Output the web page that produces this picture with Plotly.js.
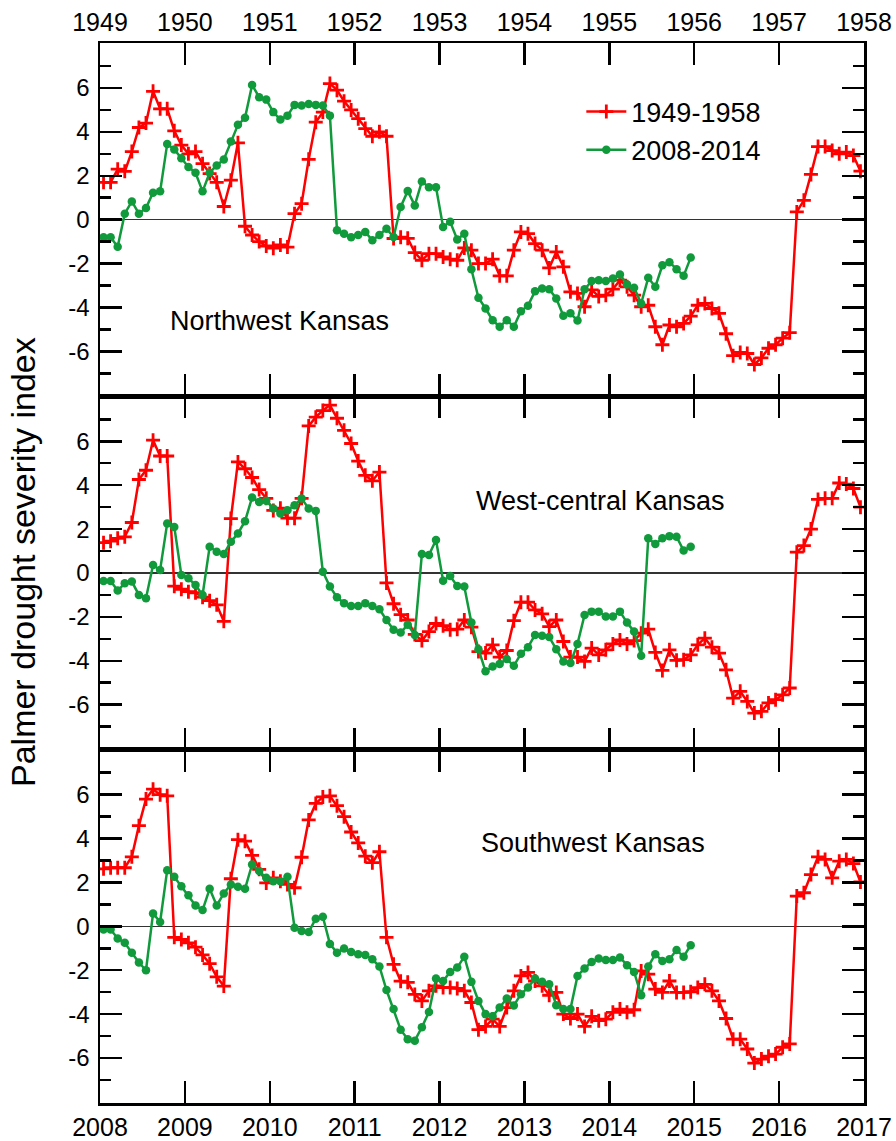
<!DOCTYPE html>
<html><head><meta charset="utf-8">
<script src="https://cdn.plot.ly/plotly-3.0.1.min.js"></script>
<style>html,body{margin:0;padding:0;background:#fff}#chart{width:896px;height:1141px}</style>
</head><body><div id="chart"></div>
<script>
// Monthly PDSI values. Red: Jan 1949 - Dec 1957 (plotted on the 2008-2016 axis), green: Jan 2008 - Dec 2014.
const redNW = [1.7,1.7,2.3,2.2,3.1,4.2,4.4,5.85,5.05,5.05,4.05,3.4,3.0,3.1,2.55,2.1,1.7,0.6,1.8,3.5,-0.3,-0.7,-1.0,-1.2,-1.3,-1.15,-1.25,0.27,0.73,2.75,4.44,4.9,6.2,5.9,5.4,5.0,4.6,4.15,3.8,4.0,3.8,-0.86,-0.8,-0.85,-1.5,-1.85,-1.55,-1.55,-1.7,-1.8,-1.85,-1.29,-1.39,-2.0,-2.0,-1.8,-2.56,-2.56,-1.39,-0.56,-0.64,-1.09,-1.39,-2.2,-1.47,-2.15,-3.29,-3.36,-3.97,-3.2,-3.5,-3.44,-3.17,-2.76,-3.06,-3.44,-3.97,-3.9,-4.88,-5.7,-4.8,-4.88,-4.73,-4.4,-3.9,-3.82,-4.05,-4.27,-5.2,-6.2,-6.05,-6.1,-6.6,-6.3,-5.86,-5.7,-5.4,-5.15,0.35,0.88,2.06,3.33,3.33,3.15,3.0,3.08,2.92,2.21];
const greenNW = [-0.8,-0.8,-1.24,0.27,0.83,0.27,0.53,1.23,1.29,3.45,3.2,2.8,2.4,2.14,1.29,2.14,2.47,2.74,3.56,4.32,4.64,6.14,5.58,5.47,4.9,4.56,4.74,5.23,5.2,5.27,5.23,5.2,4.74,-0.48,-0.64,-0.8,-0.7,-0.56,-0.94,-0.7,-0.41,-0.79,0.58,1.3,0.65,1.74,1.48,1.48,-0.33,-0.1,-0.9,-0.64,-2.26,-3.56,-4.05,-4.58,-4.88,-4.58,-4.88,-4.17,-3.92,-3.26,-3.14,-3.17,-3.59,-4.38,-4.27,-4.6,-3.17,-2.8,-2.76,-2.8,-2.68,-2.5,-2.95,-3.1,-3.82,-2.65,-3.06,-2.08,-1.94,-2.26,-2.56,-1.73];
const redWC = [1.38,1.45,1.58,1.65,2.3,4.26,4.68,6.05,5.33,5.33,-0.6,-0.74,-0.85,-0.9,-1.1,-1.26,-1.45,-2.2,2.48,5.06,4.75,4.35,3.8,3.4,2.85,2.95,2.5,2.5,3.4,6.7,7.1,7.4,7.65,7.05,6.5,5.9,5.1,4.45,4.2,4.6,-0.45,-1.4,-1.9,-2.14,-2.8,-3.08,-2.67,-2.3,-2.4,-2.59,-2.56,-2.14,-2.47,-3.58,-3.65,-3.27,-3.83,-3.53,-2.17,-1.33,-1.33,-1.68,-1.86,-2.44,-2.14,-3.12,-3.83,-3.83,-4.03,-3.42,-3.73,-3.5,-3.23,-3.05,-3.23,-3.08,-2.74,-2.56,-3.62,-4.44,-3.5,-3.98,-3.95,-3.73,-3.27,-2.97,-3.38,-3.65,-4.41,-5.7,-5.39,-5.85,-6.38,-6.3,-5.92,-5.77,-5.55,-5.24,0.95,1.25,2.0,3.35,3.4,3.4,4.1,4.05,3.85,3.0];
const greenWC = [-0.37,-0.37,-0.8,-0.47,-0.39,-1.0,-1.15,0.36,0.14,2.26,2.1,-0.09,-0.24,-0.55,-1.0,1.2,0.97,0.86,1.42,1.8,2.36,3.44,3.24,3.29,2.94,2.71,2.86,3.09,3.39,2.94,2.83,0.06,-0.62,-1.1,-1.38,-1.5,-1.5,-1.38,-1.5,-1.65,-2.14,-2.59,-2.71,-2.36,-2.82,0.86,0.82,1.5,-0.35,-0.14,-0.59,-0.62,-2.26,-3.47,-4.48,-4.26,-4.14,-3.92,-4.23,-3.68,-3.38,-2.82,-2.86,-2.92,-3.47,-4.03,-4.1,-3.23,-1.91,-1.76,-1.76,-1.98,-1.98,-1.76,-2.26,-2.67,-3.77,1.58,1.32,1.58,1.68,1.65,1.02,1.2];
const redSW = [2.62,2.67,2.67,2.67,3.17,4.59,5.8,6.25,6.0,5.95,-0.5,-0.6,-0.75,-0.95,-1.3,-1.7,-2.3,-2.72,2.17,3.95,3.88,3.23,2.6,1.98,2.21,2.05,1.91,1.76,3.15,4.85,5.6,5.9,5.95,5.5,5.0,4.3,3.8,3.2,2.9,3.4,-0.5,-1.73,-2.5,-2.55,-3.1,-3.4,-2.94,-2.71,-2.79,-2.79,-2.83,-2.94,-3.47,-4.71,-4.56,-4.23,-4.56,-3.7,-2.94,-2.26,-2.1,-2.49,-2.71,-3.14,-3.01,-4.0,-4.2,-4.0,-4.56,-4.1,-4.3,-4.23,-3.92,-3.77,-3.92,-3.8,-2.03,-2.18,-2.86,-3.01,-2.49,-3.01,-3.01,-2.98,-2.79,-2.64,-2.94,-3.4,-4.2,-5.14,-5.14,-5.59,-6.23,-6.05,-5.92,-5.82,-5.51,-5.36,1.38,1.53,2.36,3.17,3.05,2.21,2.97,3.05,2.86,2.02];
const greenSW = [-0.14,-0.14,-0.55,-0.75,-1.2,-1.65,-2.0,0.59,0.2,2.56,2.26,1.83,1.42,0.95,0.74,1.71,0.95,1.5,1.91,1.8,1.71,2.82,2.52,2.21,2.06,2.06,2.26,-0.06,-0.21,-0.26,0.35,0.44,-0.8,-1.2,-1.01,-1.17,-1.27,-1.3,-1.5,-1.83,-2.9,-3.77,-4.71,-5.14,-5.21,-4.6,-3.9,-2.38,-2.49,-2.08,-1.88,-1.38,-2.53,-3.4,-4.0,-4.1,-3.7,-3.29,-3.61,-3.09,-2.79,-2.38,-2.53,-2.64,-3.59,-3.77,-3.77,-2.26,-1.92,-1.62,-1.47,-1.53,-1.53,-1.42,-1.77,-2.08,-3.14,-1.83,-1.27,-1.58,-1.5,-1.08,-1.38,-0.86];

const bottomYears = [2008,2009,2010,2011,2012,2013,2014,2015,2016,2017];
const topYears = ['1949','1950','1951','1952','1953','1954','1955','1956','1957','1958'];
const yTickVals = [-6,-4,-2,0,2,4,6];
const yTickText = ['-6','-4','-2','0','2','4','6'];
const panelNames = ['Northwest Kansas','West-central Kansas','Southwest Kansas'];
const seriesNames = ['1949-1958','2008-2014'];

const startYear = 2008;
const monthX = arr => arr.map((_, i) => startYear + (i + 0.5) / 12);

const RED = '#ff0000', GREEN = '#109a3c';
function redTrace(y, ax, show) {
  return {x: monthX(y), y: y, xaxis: ax[0], yaxis: ax[1], type: 'scatter', mode: 'lines+markers',
    name: seriesNames[0], showlegend: show, legendrank: 1,
    line: {color: RED, width: 2.5},
    marker: {symbol: 'cross-thin', size: 10, color: RED, line: {color: RED, width: 2.8}}};
}
function greenTrace(y, ax, show) {
  return {x: monthX(y), y: y, xaxis: ax[0], yaxis: ax[1], type: 'scatter', mode: 'lines+markers',
    name: seriesNames[1], showlegend: show, legendrank: 2,
    line: {color: GREEN, width: 2.5},
    marker: {symbol: 'circle', size: 8.5, color: GREEN}};
}
const data = [
  redTrace(redNW, ['x3','y3'], true), greenTrace(greenNW, ['x3','y3'], true),
  redTrace(redWC, ['x2','y2'], false), greenTrace(greenWC, ['x2','y2'], false),
  redTrace(redSW, ['x','y'], false), greenTrace(greenSW, ['x','y'], false)
];

const FAM = 'Liberation Sans, Arial, sans-serif';
const xTickFont = {family: FAM, size: 25, color: '#000'};
const yTickFont = {family: FAM, size: 24, color: '#000'};
function xAxis(anchor, extra) {
  return Object.assign({anchor: anchor, range: [2008, 2017], autorange: false, tickvals: bottomYears,
    ticks: 'inside', ticklen: 22, tickwidth: 2.5, tickcolor: '#000',
    showline: true, linewidth: 2.5, linecolor: '#000', mirror: 'ticks',
    showgrid: false, zeroline: false, tickfont: xTickFont, fixedrange: true}, extra);
}
function yAxis(domain) {
  return {domain: domain, range: [-8.05, 8.05], autorange: false, tickvals: yTickVals, ticktext: yTickText,
    ticks: 'inside', ticklen: 22, tickwidth: 2.5, tickcolor: '#000',
    minor: {tickvals: [-7,-5,-3,-1,1,3,5,7], ticks: 'inside', ticklen: 11, tickwidth: 2.5, tickcolor: '#000'},
    showline: true, linewidth: 2.5, linecolor: '#000', mirror: 'ticks',
    showgrid: false, zeroline: true, zerolinecolor: '#333', zerolinewidth: 1.2,
    tickfont: yTickFont, fixedrange: true, ticklabelstandoff: 3};
}
const labelFont = {family: FAM, size: 27, color: '#000'};
const layout = {
  width: 896, height: 1141,
  margin: {l: 100, r: 32, t: 43, b: 38},
  paper_bgcolor: '#fff', plot_bgcolor: '#fff',
  showlegend: true,
  legend: {x: 0.63, y: 0.958, xanchor: 'left', yanchor: 'top', bgcolor: 'rgba(0,0,0,0)',
    font: labelFont, itemwidth: 40, tracegroupgap: 0},
  xaxis: xAxis('y', {}),
  xaxis2: xAxis('y2', {showticklabels: false}),
  xaxis3: xAxis('y3', {side: 'top', ticktext: topYears}),
  yaxis: yAxis([0, 0.3333]),
  yaxis2: yAxis([0.3333, 0.6667]),
  yaxis3: yAxis([0.6667, 1]),
  annotations: [
    {text: panelNames[0], xref: 'x3', yref: 'y3', x: 2010.12, y: -4.6, showarrow: false, font: labelFont},
    {text: panelNames[1], xref: 'x2', yref: 'y2', x: 2013.89, y: 3.3, showarrow: false, font: labelFont},
    {text: panelNames[2], xref: 'x', yref: 'y', x: 2013.81, y: 3.8, showarrow: false, font: labelFont},
    {text: 'Palmer drought severity index', xref: 'paper', yref: 'paper', x: -0.1, y: 0.51,
      textangle: -90, showarrow: false, xanchor: 'center', yanchor: 'middle',
      font: {family: FAM, size: 34, color: '#000'}}
  ]
};
Plotly.newPlot('chart', data, layout, {staticPlot: true, displayModeBar: false});
</script></body></html>
